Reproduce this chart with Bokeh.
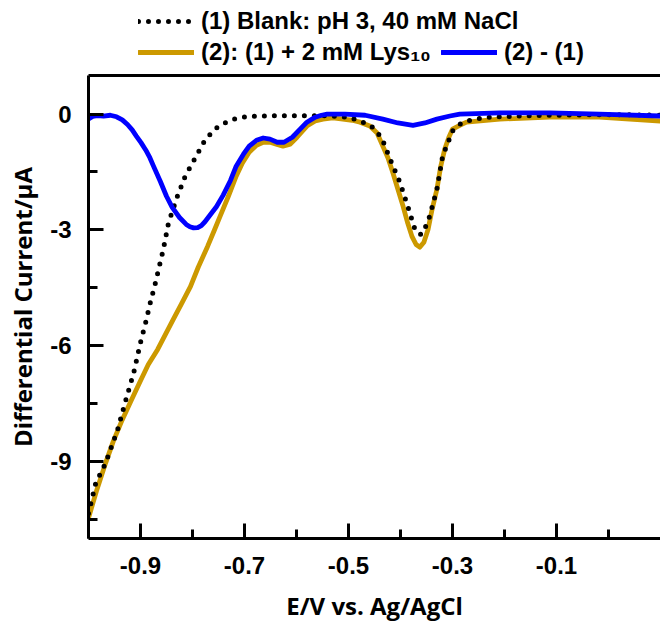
from bokeh.plotting import figure
from bokeh.layouts import column
from bokeh.models import LinearAxis, FixedTicker, Legend, LegendItem, Range1d
from bokeh.embed import file_html
from bokeh.resources import INLINE

# (1) Blank: pH 3, 40 mM NaCl
blank_v = [-1.000, -0.986, -0.967, -0.944, -0.929, -0.913, -0.900, -0.890, -0.881, -0.871,
           -0.862, -0.856, -0.846, -0.829, -0.814, -0.794, -0.775, -0.750, -0.730, -0.714,
           -0.690, -0.674, -0.600, -0.550, -0.500, -0.478, -0.460, -0.449, -0.435, -0.420,
           -0.401, -0.386, -0.372, -0.364, -0.357, -0.344, -0.330, -0.319, -0.300, -0.285,
           -0.273, -0.250, -0.229, -0.150, -0.050, 0.050, 0.100]
blank_i = [-10.35, -9.56, -9.04, -8.18, -7.45, -6.70, -5.92, -5.40, -4.88, -4.36,
           -3.84, -3.50, -2.81, -2.13, -1.61, -1.12, -0.65, -0.31, -0.18, -0.10,
           -0.06, -0.05, -0.04, -0.04, -0.08, -0.18, -0.28, -0.39, -0.65, -1.17,
           -1.77, -2.39, -3.00, -3.12, -3.10, -2.65, -1.95, -1.09, -0.44, -0.26,
           -0.18, -0.12, -0.08, -0.04, -0.02, -0.02, -0.03]

# (2): (1) + 2 mM Lys10
lys_v = [-1.000, -0.984, -0.967, -0.952, -0.935, -0.917, -0.900, -0.885, -0.867, -0.852,
         -0.837, -0.821, -0.804, -0.789, -0.771, -0.758, -0.747, -0.731, -0.716, -0.704,
         -0.691, -0.677, -0.664, -0.651, -0.639, -0.626, -0.612, -0.599, -0.580, -0.564,
         -0.549, -0.530, -0.511, -0.493, -0.478, -0.459, -0.445, -0.434, -0.424, -0.415,
         -0.405, -0.395, -0.386, -0.378, -0.370, -0.363, -0.355, -0.347, -0.340, -0.330,
         -0.323, -0.315, -0.307, -0.300, -0.286, -0.273, -0.209, -0.113, -0.018, 0.100]
lys_i = [-10.47, -9.74, -9.04, -8.47, -7.92, -7.40, -6.91, -6.49, -6.10, -5.71,
         -5.32, -4.91, -4.47, -3.97, -3.43, -3.01, -2.65, -2.13, -1.61, -1.27,
         -0.99, -0.81, -0.73, -0.73, -0.78, -0.83, -0.78, -0.60, -0.31, -0.18,
         -0.13, -0.10, -0.13, -0.16, -0.21, -0.31, -0.49, -0.83, -1.14, -1.51,
         -1.95, -2.39, -2.83, -3.17, -3.38, -3.45, -3.32, -2.99, -2.52, -1.95,
         -1.38, -0.91, -0.60, -0.39, -0.29, -0.21, -0.13, -0.08, -0.08, -0.18]

# (2) - (1)
diff_v = [-1.000, -0.992, -0.983, -0.971, -0.958, -0.946, -0.935, -0.925, -0.916, -0.908,
          -0.899, -0.890, -0.882, -0.875, -0.862, -0.850, -0.839, -0.825, -0.812, -0.805,
          -0.798, -0.790, -0.783, -0.776, -0.768, -0.754, -0.741, -0.727, -0.716, -0.702,
          -0.691, -0.677, -0.664, -0.651, -0.637, -0.624, -0.608, -0.593, -0.580, -0.564,
          -0.552, -0.541, -0.507, -0.468, -0.434, -0.405, -0.376, -0.353, -0.330, -0.305,
          -0.286, -0.209, -0.113, -0.018, 0.100]
diff_i = [-0.13, -0.06, -0.04, -0.05, -0.03, -0.07, -0.15, -0.27, -0.41, -0.57,
          -0.74, -0.93, -1.13, -1.35, -1.74, -2.13, -2.42, -2.68, -2.86, -2.92,
          -2.95, -2.94, -2.89, -2.79, -2.65, -2.40, -2.10, -1.72, -1.35, -1.04,
          -0.83, -0.68, -0.62, -0.65, -0.73, -0.73, -0.60, -0.39, -0.21, -0.08,
          -0.03, 0.00, 0.00, -0.03, -0.13, -0.23, -0.29, -0.23, -0.13, -0.05,
          0.00, 0.03, 0.03, 0.00, -0.05]

x_major = [-0.9, -0.7, -0.5, -0.3, -0.1]
x_minor = [-1.0, -0.8, -0.6, -0.4, -0.2, 0.0]
x_labels = ["-0.9", "-0.7", "-0.5", "-0.3", "-0.1"]
y_major = [0, -3, -6, -9]
y_minor = [-1.5, -4.5, -7.5, -10.5]
y_labels = ["0", "-3", "-6", "-9"]

label_blank = "(1) Blank: pH 3, 40 mM NaCl"
label_lys = "(2): (1) + 2 mM Lys\u2081\u2080"
label_diff = "(2) - (1)"

GOLD = "#CC9900"
BLUE = "#0000FF"
TICK_FONT = "Liberation Sans"
LABEL_FONT = "Open Sans"

blank_style = dict(line_color="black", line_width=5, line_dash="0 10", line_cap="round", line_join="round")
lys_style = dict(line_color=GOLD, line_width=4.8, line_join="round", line_cap="round")
diff_style = dict(line_color=BLUE, line_width=4.8, line_join="round", line_cap="round")

# ---- main plot ----
p = figure(width=660, height=552, output_backend="svg", toolbar_location=None,
           x_range=Range1d(-1.0, 0.1), y_range=Range1d(-11, 1),
           min_border_left=88, min_border_right=0, min_border_top=2, min_border_bottom=87)
p.outline_line_color = None
p.xgrid.visible = False
p.ygrid.visible = False
p.background_fill_color = "white"
p.border_fill_color = "white"

r_lys = p.line(lys_v, lys_i, **lys_style)
r_blank = p.line(blank_v, blank_i, **blank_style)
r_diff = p.line(diff_v, diff_i, **diff_style)

def style_axis(ax):
    ax.axis_line_width = 3
    ax.axis_line_color = "black"
    ax.major_tick_line_width = 3
    ax.minor_tick_line_width = 3
    ax.major_tick_in = 15
    ax.major_tick_out = 0
    ax.minor_tick_in = 9
    ax.minor_tick_out = 0
    ax.major_label_text_font = TICK_FONT
    ax.major_label_text_font_style = "bold"
    ax.major_label_text_font_size = "24px"
    ax.major_label_text_color = "black"
    ax.axis_label_text_font = LABEL_FONT
    ax.axis_label_text_font_style = "bold"
    ax.axis_label_text_font_size = "24px"
    ax.axis_label_text_color = "black"

xa = p.xaxis[0]
xa.ticker = FixedTicker(ticks=x_major, minor_ticks=x_minor)
xa.major_label_overrides = {t: l for t, l in zip(x_major, x_labels)}
xa.axis_label = "E/V vs. Ag/AgCl"
style_axis(xa)
xa.major_label_standoff = 18
xa.axis_label_standoff = 12

ya = p.yaxis[0]
ya.ticker = FixedTicker(ticks=y_major, minor_ticks=y_minor)
ya.major_label_overrides = {t: l for t, l in zip(y_major, y_labels)}
ya.axis_label = "Differential Current/\u03bcA"
style_axis(ya)
ya.major_label_standoff = 17
ya.axis_label_standoff = 8

top = LinearAxis(ticker=FixedTicker(ticks=[]), axis_line_width=3, axis_line_color="black",
                 major_tick_in=0, major_tick_out=0, minor_tick_in=0, minor_tick_out=0,
                 major_label_standoff=0, major_label_text_font_size="0px")
p.add_layout(top, "above")

# ---- legend strip above the plot (same series, drawn out of its view) ----
lf = figure(width=660, height=73, output_backend="svg", toolbar_location=None,
            x_axis_type=None, y_axis_type=None, min_border=0,
            x_range=Range1d(-1.0, 0.1), y_range=Range1d(20, 21))
lf.outline_line_color = None
lf.xgrid.visible = False
lf.ygrid.visible = False
lf.background_fill_color = "white"
lf.border_fill_color = "white"

k_blank = lf.line(blank_v, blank_i, **blank_style)
k_lys = lf.line(lys_v, lys_i, **lys_style)
k_diff = lf.line(diff_v, diff_i, **diff_style)

def make_legend(items, loc):
    return Legend(items=items, location=loc, orientation="horizontal",
                  label_text_font=TICK_FONT, label_text_font_style="bold",
                  label_text_font_size="24px", label_text_color="black",
                  label_text_baseline="middle",
                  glyph_width=56, glyph_height=24, label_height=24,
                  label_standoff=7, spacing=10, padding=0, margin=0,
                  border_line_color=None, background_fill_alpha=0)

leg1 = make_legend([LegendItem(label=label_blank, renderers=[k_blank])], (50, 38))
leg2 = make_legend([LegendItem(label=label_lys, renderers=[k_lys]),
                    LegendItem(label=label_diff, renderers=[k_diff])], (50, 7))
lf.add_layout(leg1)
lf.add_layout(leg2)

layout = column(lf, p, spacing=0)
open("out.html", "w").write(file_html(layout, INLINE))
